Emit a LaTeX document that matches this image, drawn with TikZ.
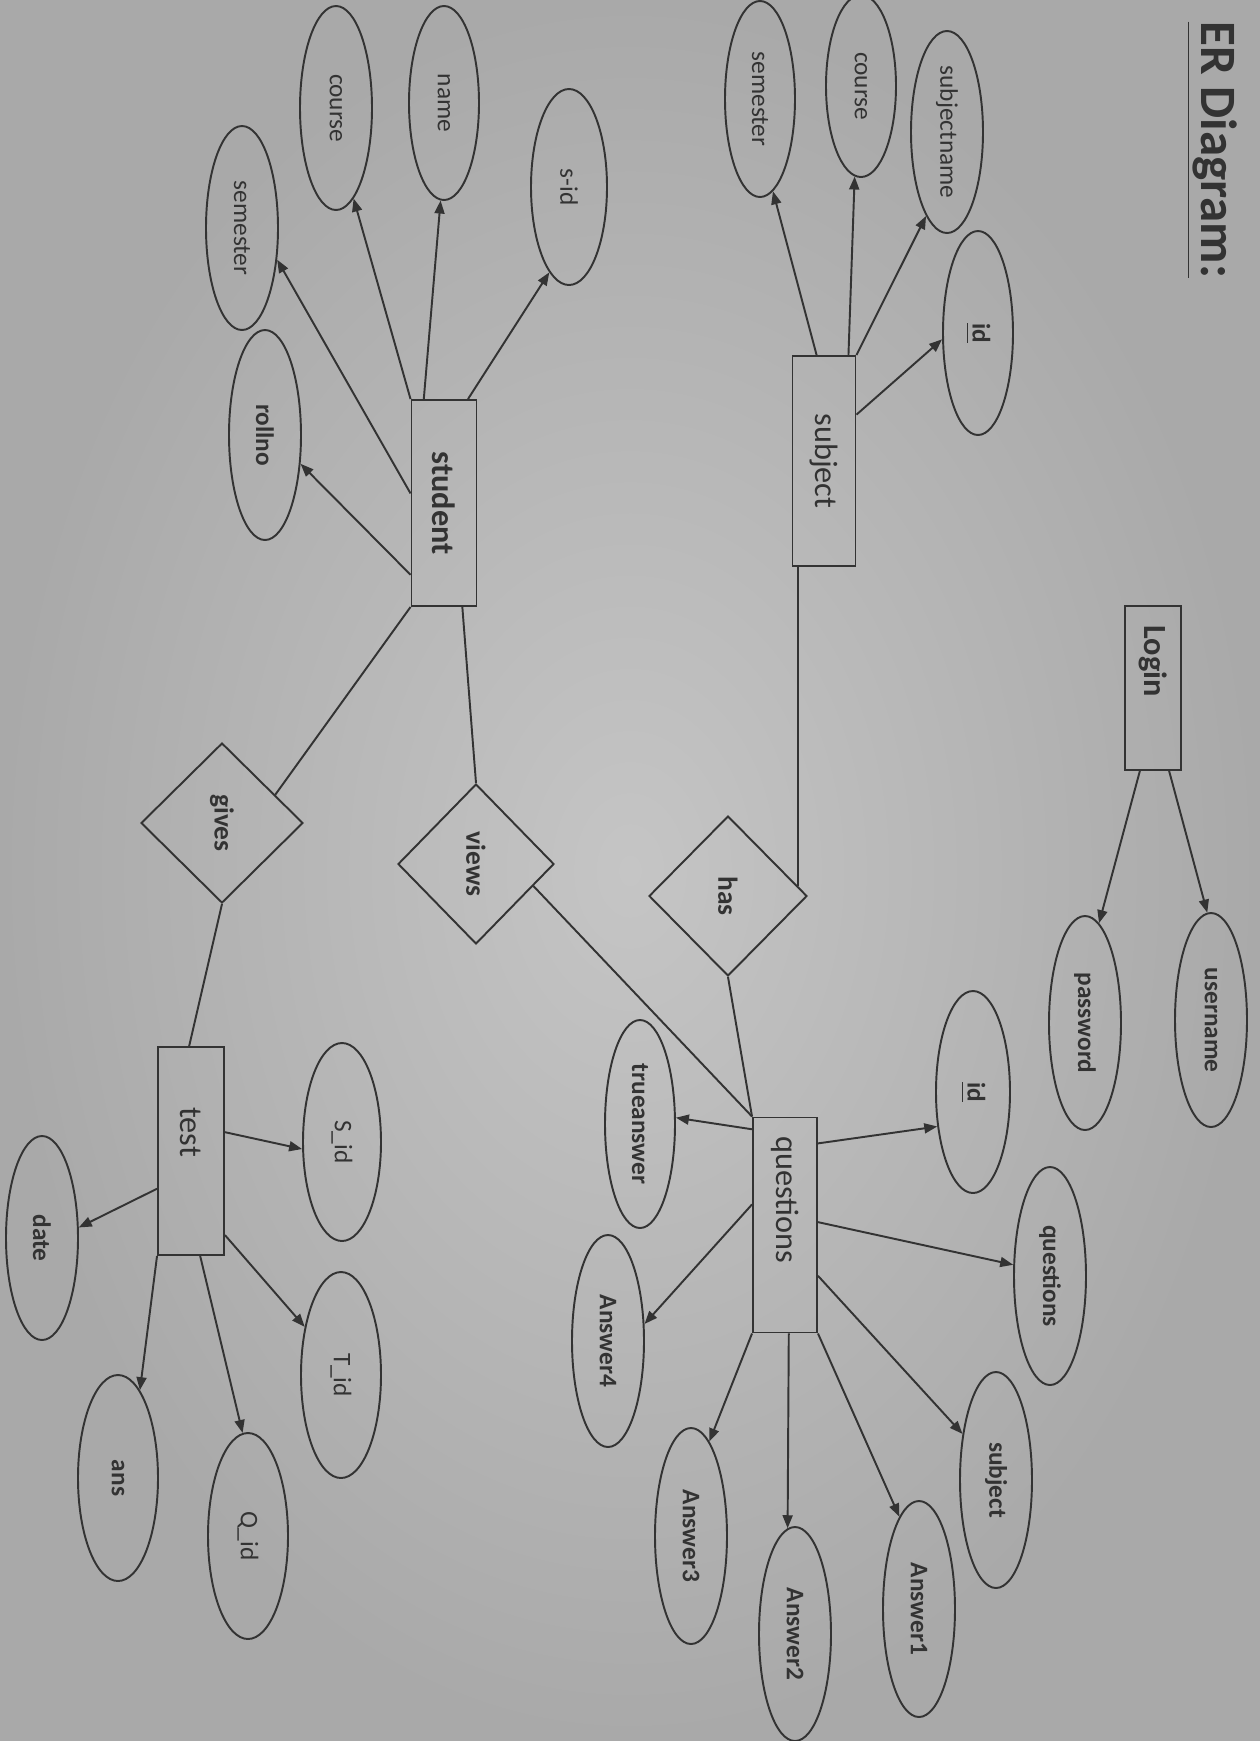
\documentclass[tikz,border=0pt]{standalone}
\usepackage{fontspec}
\setmainfont{Carlito}
\usepackage{graphicx}
\usetikzlibrary{shapes.geometric,arrows.meta}
\definecolor{paperlight}{HTML}{C5C5C5}
\definecolor{paperdark}{HTML}{A9A9A9}
\definecolor{ink}{HTML}{333333}
\newcommand{\vt}[1]{\rotatebox{-90}{#1}}

\begin{document}
\begin{tikzpicture}[x=0.1mm,y=-0.1mm,
    entity/.style={draw=ink,line width=0.55pt,rectangle,inner sep=0pt,text=ink,font=\fontsize{9.2}{10}\selectfont},
    attr/.style={draw=ink,line width=0.55pt,ellipse,inner sep=0pt,minimum width=7.2mm,minimum height=20.6mm,text=ink,font=\fontsize{7.2}{8}\selectfont},
    battr/.style={attr,font=\fontsize{7.2}{8}\selectfont\bfseries},
    rel/.style={draw=ink,line width=0.55pt,diamond,inner sep=0pt,minimum width=15.8mm,minimum height=16mm,text=ink,font=\fontsize{7.8}{9}\selectfont\bfseries},
    link/.style={ink,line width=0.55pt},
    arr/.style={link,-{Triangle[length=1.3mm,width=1mm]}}]
    \useasboundingbox (0,0) rectangle (1260,1741);
    \shade[inner color=paperlight,outer color=paperdark] (0,0) rectangle (1260,1741);

    \node[text=ink,font=\fontsize{14.5}{16}\selectfont\bfseries] (title) at (1212,150) {\vt{\underline{ER Diagram:}}};

    % entities
    \node[entity,font=\fontsize{9.2}{10}\selectfont\bfseries,minimum width=6.5mm,minimum height=20.6mm] (student) at (444,503) {\vt{student}};
    \node[entity,minimum width=6.3mm,minimum height=21mm] (subject) at (824,461) {\vt{subject}};
    \node[entity,font=\fontsize{9.2}{10}\selectfont\bfseries,minimum width=5.6mm,minimum height=16.4mm] (login) at (1153,688) {\vt{Login\hspace{5.4mm}}};
    \node[entity,minimum width=6.4mm,minimum height=21.5mm] (questions) at (785,1225) {\vt{questions\hspace{5mm}}};
    \node[entity,minimum width=6.6mm,minimum height=20.8mm] (test) at (191,1151) {\vt{test\hspace{3.8mm}}};

    % relations
    \node[rel] (has) at (728,896) {\vt{has}};
    \node[rel,minimum width=15.6mm] (views) at (476,864) {\vt{views}};
    \node[rel,minimum width=16.2mm] (gives) at (222,823) {\vt{gives}};

    % attributes of student
    \node[attr,minimum width=7.6mm,minimum height=19.6mm] (sid) at (569,187) {\vt{s-id}};
    \node[attr,minimum width=7mm,minimum height=19.4mm] (sname) at (444,103) {\vt{name}};
    \node[attr,minimum height=20.4mm] (scourse) at (336,108) {\vt{course}};
    \node[attr,minimum height=20.4mm] (ssem) at (242,228) {\vt{semester}};
    \node[battr,minimum height=21mm] (rollno) at (265,435) {\vt{rollno}};

    % attributes of subject
    \node[battr,minimum width=7mm,minimum height=20.4mm] (subid) at (978,333) {\vt{\underline{id}}};
    \node[attr,minimum height=20.2mm] (subname) at (947,132) {\vt{subjectname}};
    \node[attr,minimum width=7mm,minimum height=18.2mm] (subcourse) at (861,86) {\vt{course}};
    \node[attr,minimum width=7mm,minimum height=19.6mm] (subsem) at (760,99) {\vt{semester}};

    % attributes of login
    \node[battr,minimum height=21.4mm] (password) at (1085,1023) {\vt{password}};
    \node[battr,minimum height=21.4mm] (username) at (1211,1020) {\vt{username}};

    % attributes of questions
    \node[battr,minimum width=7.4mm,minimum height=20.2mm] (qid) at (973,1092) {\vt{\underline{id}}};
    \node[battr,minimum height=21.8mm] (qques) at (1050,1276) {\vt{questions}};
    \node[battr,minimum height=21.6mm] (qsubj) at (996,1480) {\vt{subject}};
    \node[battr,minimum height=21.6mm] (answer1) at (919,1609) {\vt{Answer1}};
    \node[battr,minimum height=21.4mm] (answer2) at (795,1634) {\vt{Answer2}};
    \node[battr,minimum height=21.6mm] (answer3) at (691,1536) {\vt{Answer3}};
    \node[battr,minimum height=21.2mm] (answer4) at (608,1341) {\vt{Answer4}};
    \node[battr,minimum width=7mm,minimum height=20.8mm] (trueans) at (640,1124) {\vt{trueanswer}};

    % attributes of test
    \node[attr,minimum width=7.8mm,minimum height=19.8mm] (tsid) at (342,1142) {\vt{S\_id}};
    \node[attr,minimum width=8mm] (ttid) at (341,1375) {\vt{T\_id}};
    \node[attr,minimum width=8mm] (tqid) at (248,1536) {\vt{Q\_id}};
    \node[battr,minimum width=8mm] (tans) at (118,1478) {\vt{ans}};
    \node[battr,minimum height=20.4mm] (date) at (42,1238) {\vt{date}};

    % student
    \draw[arr] (student.77) -- (sid.257);
    \draw[arr] (student.101) -- (sname.268);
    \draw[arr] (student.north west) -- (scourse.281);
    \draw[arr] (student.164) -- (ssem.318);
    \draw[arr] (student.245) -- (rollno.321);
    \draw[link] (student.south west) -- (gives.28);
    \draw[link] (student.280) -- (views.north);

    % subject
    \draw[arr] (subject.55) -- (subid.190);
    \draw[arr] (subject.north east) -- (subname.256);
    \draw[arr] (subject.77) -- (subcourse.266);
    \draw[arr] (subject.94) -- (subsem.278);
    \draw[link] (has.8) -- (has.8 |- subject.south);

    % login
    \draw[arr] (login.261) -- (password.82);
    \draw[arr] (login.281) -- (username.92);

    % questions
    \draw[link] (has.south) -- (questions.north west);
    \draw[link] (views.339) -- (questions.north west);
    \draw[arr] (questions.68) -- (qid.224);
    \draw[arr] (questions.5) -- (qques.163);
    \draw[arr] (questions.303) -- (qsubj.126);
    \draw[arr] (questions.south east) -- (answer1.102);
    \draw[arr] (questions.272) -- (answer2.94);
    \draw[arr] (questions.south west) -- (answer3.79);
    \draw[arr] (questions.148) -- (answer4.25);
    \draw[arr] (questions.109) -- (trueans.10);

    % test
    \draw[link] (gives.south) -- (test.91);
    \draw[arr] (test.29) -- (tsid.190);
    \draw[arr] (test.228) -- (date.16);
    \draw[arr] (test.292) -- (ttid.127);
    \draw[arr] (test.275) -- (tqid.93);
    \draw[arr] (test.south west) -- (tans.76);
\end{tikzpicture}
\end{document}
